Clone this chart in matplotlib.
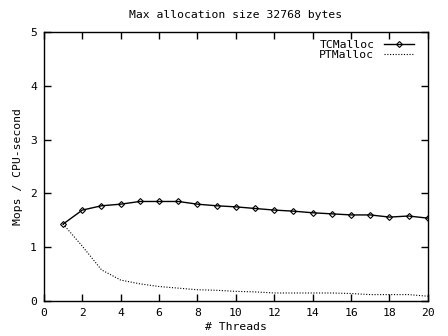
import matplotlib
matplotlib.use('Agg')
import matplotlib.pyplot as plt

threads = list(range(1, 21))
tcmalloc = [1.43, 1.69, 1.77, 1.80, 1.85, 1.85, 1.85, 1.80, 1.77, 1.75,
            1.72, 1.69, 1.67, 1.64, 1.62, 1.60, 1.60, 1.56, 1.58, 1.54]
ptmalloc = [1.43, 1.02, 0.58, 0.39, 0.32, 0.27, 0.24, 0.21, 0.20, 0.18,
            0.17, 0.15, 0.15, 0.15, 0.15, 0.14, 0.12, 0.12, 0.12, 0.09]

plt.rcParams['font.family'] = 'DejaVu Sans Mono'
plt.rcParams['font.size'] = 8.2

fig = plt.figure(figsize=(4.48, 3.36), dpi=100)
ax = fig.add_axes([0.098, 0.104, 0.857, 0.801])

ax.plot(threads, tcmalloc, color='black', lw=1, marker='D', ms=3,
        fillstyle='none', mew=0.8, label='TCMalloc')
ax.plot(threads, ptmalloc, color='black', lw=0.8, ls=(0, (1, 1.5)), label='PTMalloc')

ax.set_xlim(0, 20)
ax.set_ylim(0, 5)
ax.set_xticks(range(0, 21, 2))
ax.set_yticks(range(0, 6))
ax.tick_params(direction='in', length=5, width=1, top=True, right=True, pad=5)
for s in ax.spines.values():
    s.set_linewidth(1)

ax.set_title('Max allocation size 32768 bytes', fontsize=8.2, pad=10)
ax.set_xlabel('# Threads', labelpad=3)
ax.set_ylabel('Mops / CPU-second', labelpad=5)

# key in the top right corner, sample line after the text
leg = ax.legend(loc='upper right', frameon=False, handlelength=2.6,
                markerfirst=False, borderaxespad=0.3, labelspacing=0.0,
                handletextpad=0.9, bbox_to_anchor=(0.985, 1.0))

plt.savefig('out.png', dpi=100)
